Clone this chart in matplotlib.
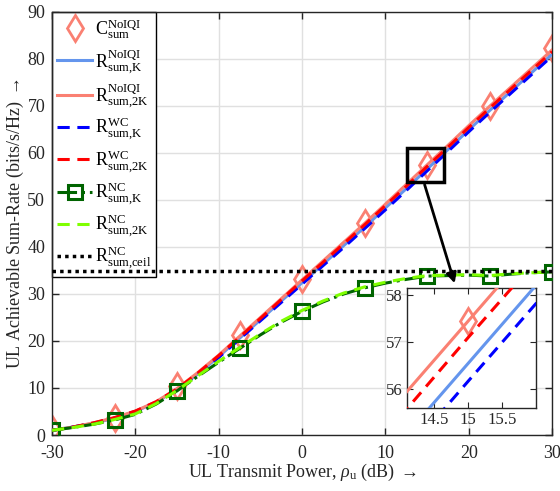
import matplotlib
matplotlib.use("Agg")
import matplotlib.pyplot as plt
from matplotlib.patches import Rectangle

plt.rcParams['font.family'] = ['Liberation Serif', 'DejaVu Serif']
plt.rcParams['mathtext.fontset'] = 'custom'
plt.rcParams['mathtext.rm'] = 'Liberation Serif'
plt.rcParams['mathtext.it'] = 'Liberation Serif:italic'
plt.rcParams['mathtext.bf'] = 'Liberation Serif:bold'
plt.rcParams['axes.unicode_minus'] = False

# ---------------- data ----------------
x = [-30, -27.5, -25, -22.5, -20, -17.5, -15, -12.5, -10, -7.5, -5, -2.5, 0,
     2.5, 5, 7.5, 10, 12.5, 15, 17.5, 20, 22.5, 25, 27.5, 30]

x_mark = [-30, -22.5, -15, -7.5, 0, 7.5, 15, 22.5, 30]
c_sum_noiqi = [1.2, 3.7, 10.5, 21.3, 33.1, 45.1, 57.45, 70.0, 82.4]

r_noiqi_k = [1.0, 1.7, 2.5, 3.6, 5.0, 7.0, 9.7, 13.0, 16.7, 20.6, 24.5, 28.5, 32.4,
             36.3, 40.3, 44.2, 48.3, 52.4, 56.55, 60.7, 64.9, 69.0, 73.0, 77.0, 81.0]
r_noiqi_2k = [1.0, 1.7, 2.6, 3.7, 5.1, 7.1, 9.9, 13.3, 17.0, 21.0, 25.0, 29.0, 33.0,
              37.0, 41.0, 45.0, 49.1, 53.3, 57.45, 61.6, 65.8, 69.9, 73.9, 77.9, 81.9]
r_wc_k = [1.0, 1.7, 2.5, 3.6, 5.0, 6.9, 9.6, 12.9, 16.5, 20.4, 24.3, 28.2, 32.1,
          36.0, 39.9, 43.9, 47.9, 52.0, 56.17, 60.3, 64.5, 68.6, 72.6, 76.6, 80.6]
r_wc_2k = [1.0, 1.7, 2.6, 3.7, 5.1, 7.1, 9.8, 13.2, 16.9, 20.8, 24.8, 28.8, 32.8,
           36.7, 40.7, 44.7, 48.8, 52.9, 57.1, 61.2, 65.4, 69.5, 73.5, 77.5, 81.5]
r_nc_k = [1.0, 1.6, 2.3, 3.2, 4.4, 6.6, 9.4, 12.5, 15.5, 18.4, 21.3, 24.0, 26.3,
          28.3, 30.0, 31.3, 32.3, 33.1, 33.8, 33.9, 34.0, 33.8, 34.2, 34.5, 34.7]
r_nc_2k = [1.0, 1.6, 2.3, 3.3, 4.5, 6.7, 9.5, 12.6, 15.7, 18.6, 21.5, 24.2, 26.5,
           28.5, 30.2, 31.5, 32.5, 33.3, 33.9, 34.0, 34.1, 33.9, 34.3, 34.5, 34.7]
r_nc_ceil = 34.8

xticks = [-30, -20, -10, 0, 10, 20, 30]
yticks = [0, 10, 20, 30, 40, 50, 60, 70, 80, 90]
inset_xticks = [14.5, 15, 15.5]
inset_yticks = [56, 57, 58]

labels = [r'$\mathrm{C}_{\mathrm{sum}}^{\mathrm{NoIQI}}$',
          r'$\mathrm{R}_{\mathrm{sum{,}K}}^{\mathrm{NoIQI}}$',
          r'$\mathrm{R}_{\mathrm{sum{,}2K}}^{\mathrm{NoIQI}}$',
          r'$\mathrm{R}_{\mathrm{sum{,}K}}^{\mathrm{WC}}$',
          r'$\mathrm{R}_{\mathrm{sum{,}2K}}^{\mathrm{WC}}$',
          r'$\mathrm{R}_{\mathrm{sum{,}K}}^{\mathrm{NC}}$',
          r'$\mathrm{R}_{\mathrm{sum{,}2K}}^{\mathrm{NC}}$',
          r'$\mathrm{R}_{\mathrm{sum{,}ceil}}^{\mathrm{NC}}$']

# ---------------- styles ----------------
salmon = '#FA8072'
cblue = '#6495ED'
dgreen = '#006400'
lime = '#7FFF00'
lw = 2.2
dash = (4, 2.5)

fig = plt.figure(figsize=(5.6, 4.91), dpi=100)
ax = fig.add_axes([0.093, 0.114, 0.893, 0.862])


def draw(a, with_nc=True):
    a.plot(x_mark, c_sum_noiqi, linestyle='none', marker='d', ms=13,
           mfc='none', mec=salmon, mew=2, label=labels[0], zorder=2)
    a.plot(x, r_noiqi_k, color=cblue, lw=lw, label=labels[1], zorder=3)
    a.plot(x, r_noiqi_2k, color=salmon, lw=lw, label=labels[2], zorder=3)
    a.plot(x, r_wc_k, color='blue', lw=lw, dashes=dash, label=labels[3], zorder=4)
    a.plot(x, r_wc_2k, color='red', lw=lw, dashes=dash, label=labels[4], zorder=4)
    if with_nc:
        a.plot(x, r_nc_k, color=dgreen, lw=lw, linestyle='-.', marker='s',
               ms=9.5, mfc='none', mec=dgreen, mew=2.2, markevery=3,
               label=labels[5], zorder=5)
        a.plot(x, r_nc_2k, color=lime, lw=lw, dashes=dash, label=labels[6], zorder=6)
        a.axhline(r_nc_ceil, color='black', lw=2.5, linestyle=(0, (1, 1.2)),
                  label=labels[7], zorder=7)


draw(ax)
ax.set_xlim(-30, 30)
ax.set_ylim(0, 90)
ax.set_xticks(xticks)
ax.set_yticks(yticks)
ax.grid(True, color='#e0e0e0', lw=1)
ax.set_axisbelow(True)
ax.tick_params(direction='in', top=True, right=True, labelsize=13, length=5,
               width=1, colors='#262626', labelcolor='#262626')
ax.tick_params(axis='x', pad=7)
ax.tick_params(axis='y', pad=5)
for s in ax.spines.values():
    s.set_color('#262626')
    s.set_linewidth(1)
ax.set_xlabel(r'UL Transmit Power, $\rho_{\mathrm{u}}$ (dB) $\rightarrow$',
              fontsize=13, color='#262626', labelpad=0)
ax.set_ylabel(r'UL Achievable Sum-Rate (bits/s/Hz) $\rightarrow$', fontsize=13,
              color='#262626', labelpad=1)

leg = ax.legend(loc='upper left', bbox_to_anchor=(0, 1), borderaxespad=0,
                fontsize=13, handlelength=1.9, handletextpad=0.15,
                labelspacing=0.3, borderpad=0.3, fancybox=False,
                edgecolor='black', framealpha=1)
leg.get_frame().set_linewidth(1)
leg.set_zorder(1)

# zoom rectangle and arrow
ax.add_patch(Rectangle((12.6, 53.8), 4.4, 7.3, fill=False, ec='black', lw=2.5,
                       zorder=8))
ax.annotate('', xy=(18.4, 31.7), xytext=(14.6, 53.8),
            arrowprops=dict(arrowstyle='-|>,head_length=0.6,head_width=0.3',
                            color='black', lw=2), zorder=8)

# inset
axi = fig.add_axes([0.727, 0.169, 0.230, 0.244])
draw(axi, with_nc=False)
axi.set_xlim(14.1, 16.0)
axi.set_ylim(55.6, 58.15)
axi.set_xticks(inset_xticks)
axi.set_xticklabels(['14.5', '15', '15.5'])
axi.set_yticks(inset_yticks)
axi.tick_params(direction='in', top=True, right=True, labelsize=12, length=4,
                colors='#262626', labelcolor='#262626', pad=3)
for s in axi.spines.values():
    s.set_color('#262626')
    s.set_linewidth(1)

fig.savefig('out.png', dpi=100)
